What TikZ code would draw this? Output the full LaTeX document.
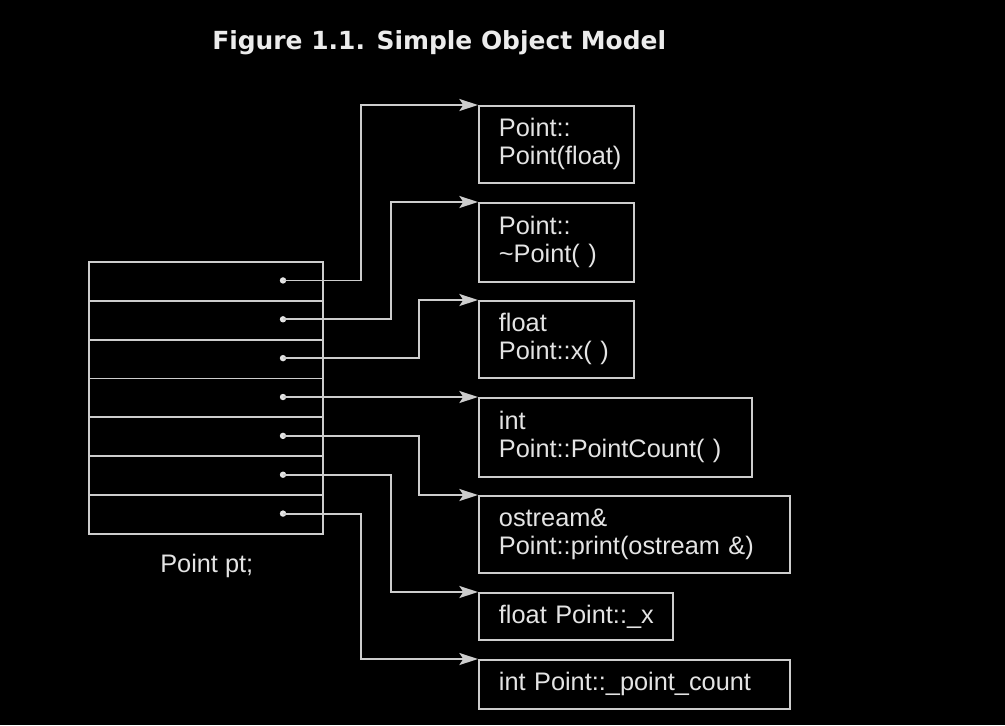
\documentclass[tikz,border=0pt]{standalone}
\usepackage{fontspec}
\setmainfont{Liberation Sans}
\newfontfamily\titlefont{DejaVu Sans}
\usetikzlibrary{arrows.meta}
\definecolor{linec}{RGB}{205,205,205}
\definecolor{textc}{RGB}{228,228,228}
\definecolor{titlec}{RGB}{236,236,236}
\tikzset{
  conn/.style={draw=linec, line width=1.4pt, -{Stealth[length=14pt,width=9pt,inset=3pt]}},
  rowbox/.style={draw=linec, line width=1.4pt, minimum width=175.5pt, minimum height=29.145pt, inner sep=0pt, anchor=north west},
  dotn/.style={circle, fill=textc, minimum size=4.8pt, inner sep=0pt},
  fbox/.style={draw=linec, line width=1.4pt, anchor=north west, inner xsep=15pt, inner ysep=0pt,
     align=left, text=textc, font=\fontsize{19pt}{21pt}\selectfont},
}
\begin{document}
\begin{tikzpicture}[x=0.75pt,y=-0.75pt]
\useasboundingbox[fill=black] (0,0) rectangle (1005,725);
\node[anchor=base west, text=titlec, inner sep=0pt, font=\titlefont\bfseries\fontsize{18.7pt}{22pt}\selectfont] (title) at (212,49) {Figure 1.1. Simple Object Model};

% record rows
\foreach \i in {1,...,7} {
  \node[rowbox] (r\i) at (88,{261+38.857*(\i-1)}) {};
  \node[dotn] (d\i) at (283,{261+19.43+38.857*(\i-1)}) {};
}
\node[anchor=base west, inner sep=0pt, text=textc, font=\fontsize{19pt}{21pt}\selectfont] (lbl) at (160,572) {Point pt;};

% function / member boxes
\node[fbox, text width=86.25pt, minimum height=57.75pt] (b1) at (478,105) {Point::\\Point(float)};
\node[fbox, text width=86.25pt, minimum height=59pt] (b2) at (478,202) {Point::\\\textasciitilde Point( )};
\node[fbox, text width=86.25pt, minimum height=57.75pt] (b3) at (478,300) {float\\Point::x( )};
\node[fbox, text width=174.75pt, minimum height=59.25pt] (b4) at (478,397) {int\\Point::PointCount( )};
\node[fbox, text width=203.25pt, minimum height=57.75pt] (b5) at (478,495) {ostream\&\\Point::print(ostream \&)};
\node[fbox, text width=115.5pt, minimum height=35.25pt] (b6) at (478,592) {\makebox[115.5pt][l]{float Point::\_x}};
\node[fbox, text width=203.25pt, minimum height=36.75pt] (b7) at (478,659) {int Point::\_point\_count};

% turn columns
\coordinate (c1) at (361,0);
\coordinate (c2) at (391,0);
\coordinate (c3) at (419,0);

\draw[conn] (d1.center) -| (c1 |- b1.north west) -- (b1.north west);
\draw[conn] (d2.center) -| (c2 |- b2.north west) -- (b2.north west);
\draw[conn] (d3.center) -| (c3 |- b3.north west) -- (b3.north west);
\draw[conn] (d4.center) -- (b4.north west);
\draw[conn] (d5.center) -| (c3 |- b5.north west) -- (b5.north west);
\draw[conn] (d6.center) -| (c2 |- b6.north west) -- (b6.north west);
\draw[conn] (d7.center) -| (c1 |- b7.north west) -- (b7.north west);
\end{tikzpicture}
\end{document}
